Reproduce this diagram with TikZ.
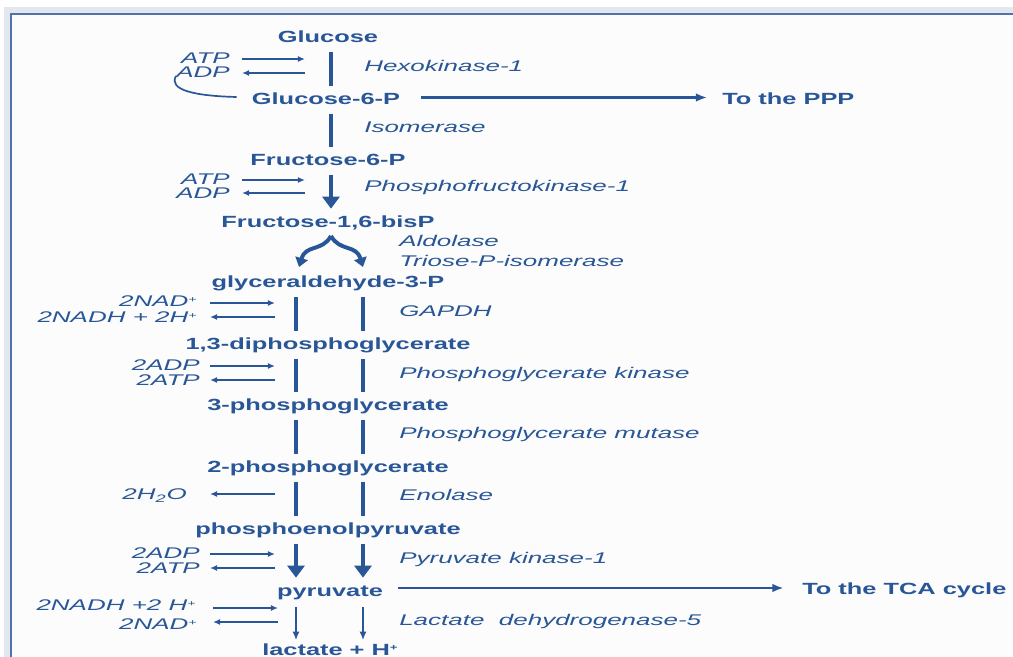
\documentclass[tikz,border=0pt]{standalone}
\usepackage{fontspec}
\setmainfont{Liberation Sans}
\newfontfamily\metfont[FakeStretch=1.57]{Liberation Sans}
\newfontfamily\enzfont[FakeStretch=1.68]{Liberation Sans}
\usetikzlibrary{arrows.meta}
\definecolor{glyblue}{RGB}{40,86,150}
\definecolor{frameblue}{RGB}{78,116,168}
\definecolor{edgegray}{RGB}{227,232,239}
\definecolor{paper}{RGB}{252,252,253}
\newcommand\charge{\raisebox{0.55ex}{\fontsize{6}{6}\selectfont+}}

\begin{document}
\begin{tikzpicture}[x=0.025cm,y=-0.025cm,
  met/.style={text=glyblue,inner sep=0pt,text height=8.5pt,text depth=2.5pt,
    font=\metfont\bfseries\fontsize{11.5}{13}\selectfont},
  enz/.style={text=glyblue,inner sep=0pt,anchor=west,text height=8pt,text depth=2.5pt,
    font=\enzfont\itshape\fontsize{11}{13}\selectfont},
  cof/.style={enz,anchor=east},
  bar/.style={glyblue,line width=3.3pt,shorten <=4pt,shorten >=4.5pt},
  bigdown/.style={bar,-{Triangle[length=8.5pt,width=12pt]}},
  smalldown/.style={glyblue,line width=1.4pt,shorten <=5pt,shorten >=2pt,-{Latex[length=6pt,width=5pt]}},
  side/.style={glyblue,line width=1.3pt,-{Latex[length=5pt,width=4.2pt]}},
  fork/.style={glyblue,line width=2.8pt,-{Triangle[length=6.5pt,width=9pt]}},
  exit/.style={glyblue,line width=1.8pt,-{Latex[length=8pt,width=6pt]}}]
  \useasboundingbox (0,0) rectangle (1013,657);
  % frame
  \fill[white] (0,0) rectangle (1013,657);
  \fill[edgegray] (4,7) rectangle (1013,657);
  \fill[paper] (11,14) rectangle (1013,657);
  \draw[frameblue,line width=2pt] (11,657) -- (11,14) -- (1013,14);
  \coordinate (colM) at (331,0); \coordinate (colL) at (296,0);
  \coordinate (colR) at (363,0);
  % metabolites
  \node[met] (glc) at (328,38) {Glucose};
  \node[met] (g6p) at (326,100) {Glucose-6-P};
  \node[met] (f6p) at (328,161) {Fructose-6-P};
  \node[met] (fbp) at (328,223) {Fructose-1,6-bisP};
  \node[met] (gap) at (328,283.5) {glyceraldehyde-3-P};
  \node[met] (bpg) at (328,345) {1,3-diphosphoglycerate};
  \node[met] (pgA) at (328,406.5) {3-phosphoglycerate};
  \node[met] (pgB) at (328,468) {2-phosphoglycerate};
  \node[met] (pep) at (328,530) {phosphoenolpyruvate};
  \node[met] (pyr) at (330,592) {pyruvate};
  \node[met] (lac) at (330,651) {lactate + H\charge};
  \node[met,anchor=west] (ppp) at (722,100) {To the PPP};
  \node[met,anchor=west] (tca) at (802,590) {To the TCA cycle};
  % enzymes
  \node[enz] (hk) at (364,68) {Hexokinase-1};
  \node[enz] (iso) at (364,129) {Isomerase};
  \node[enz] (pfk) at (364,188) {Phosphofructokinase-1};
  \node[enz] (ald) at (399,243) {Aldolase};
  \node[enz] (tpi) at (399,263) {Triose-P-isomerase};
  \node[enz] (gapdh) at (399,313) {GAPDH};
  \node[enz] (pgk) at (399,375) {Phosphoglycerate kinase};
  \node[enz] (pgm) at (399,435) {Phosphoglycerate mutase};
  \node[enz] (eno) at (399,497) {Enolase};
  \node[enz] (pk) at (399,560) {Pyruvate kinase-1};
  \node[enz] (ldh) at (399,622) {Lactate\ \ dehydrogenase-5};
  % cofactors
  \node[cof] (atpA) at (230,60) {ATP};
  \node[cof] (adpA) at (230,74) {ADP};
  \node[cof] (atpB) at (230,181) {ATP};
  \node[cof] (adpB) at (230,195) {ADP};
  \node[cof] (nadA) at (197,303) {2NAD\charge};
  \node[cof] (nadhA) at (197,319) {2NADH + 2H\charge};
  \node[cof] (adpC) at (200,367) {2ADP};
  \node[cof] (atpC) at (200,382) {2ATP};
  \node[cof] (water) at (187,496) {2H\textsubscript{2}O};
  \node[cof] (adpD) at (200,555) {2ADP};
  \node[cof] (atpD) at (200,570) {2ATP};
  \node[cof] (nadhB) at (196,607) {2NADH +2 H\charge};
  \node[cof] (nadB) at (197,626) {2NAD\charge};
  % cofactor arrows
  \draw[side] ([shift={(12,-1)}]atpA.east) -- ++(63,0);
  \draw[side] ([shift={(75,-1)}]adpA.east) -- ++(-63,0);
  \draw[side] ([shift={(12,-1)}]atpB.east) -- ++(63,0);
  \draw[side] ([shift={(75,-2)}]adpB.east) -- ++(-63,0);
  \draw[side] ([shift={(13,0)}]nadA.east) -- ++(65,0);
  \draw[side] ([shift={(78,-2)}]nadhA.east) -- ++(-65,0);
  \draw[side] ([shift={(10,-1)}]adpC.east) -- ++(65,0);
  \draw[side] ([shift={(75,-2)}]atpC.east) -- ++(-65,0);
  \draw[side] ([shift={(88,-2)}]water.east) -- ++(-65,0);
  \draw[side] ([shift={(10,-1)}]adpD.east) -- ++(65,0);
  \draw[side] ([shift={(75,-2)}]atpD.east) -- ++(-65,0);
  \draw[side,line width=1.7pt] ([shift={(17,1)}]nadhB.east) -- ++(65,0);
  \draw[side,line width=1.7pt] ([shift={(81,-4)}]nadB.east) -- ++(-65,0);
  \draw[glyblue,line width=1.2pt] ([shift={(0,2)}]adpA.west) .. controls (168,90) and (195,96)
    .. ([shift={(-15,-3)}]g6p.west);
  % main chain
  \draw[bar] (glc.south -| colM) -- (g6p.north -| colM);
  \draw[bar] (g6p.south -| colM) -- (f6p.north -| colM);
  \draw[bigdown] (f6p.south -| colM) -- (fbp.north -| colM);
  \coordinate (apex) at (331,236);
  \coordinate (forkL) at (299,267); \coordinate (forkR) at (363,267);
  \draw[fork] (apex) .. controls (322,252) and (306,244) .. (forkL);
  \draw[fork] (apex) .. controls (340,252) and (356,244) .. (forkR);
  \foreach \u/\v in {gap/bpg,bpg/pgA,pgA/pgB,pgB/pep}{
    \draw[bar] (\u.south -| colL) -- (\v.north -| colL);
    \draw[bar] (\u.south -| colR) -- (\v.north -| colR);}
  \draw[bigdown] (pep.south -| colL) -- (pyr.north -| colL);
  \draw[bigdown] (pep.south -| colR) -- (pyr.north -| colR);
  \draw[smalldown] (pyr.south -| colL) -- (lac.north -| colL);
  \draw[smalldown] (pyr.south -| colR) -- (lac.north -| colR);
  % exits
  \draw[exit,shorten <=15pt,shorten >=10.5pt] ([shift={(0,-2.5)}]g6p.east)
    -- ([shift={(0,-2.5)}]ppp.west);
  \draw[exit,shorten <=10.5pt,shorten >=13pt] ([shift={(0,-2)}]pyr.east |- tca.west)
    -- ([shift={(0,-2)}]tca.west);
\end{tikzpicture}
\end{document}
